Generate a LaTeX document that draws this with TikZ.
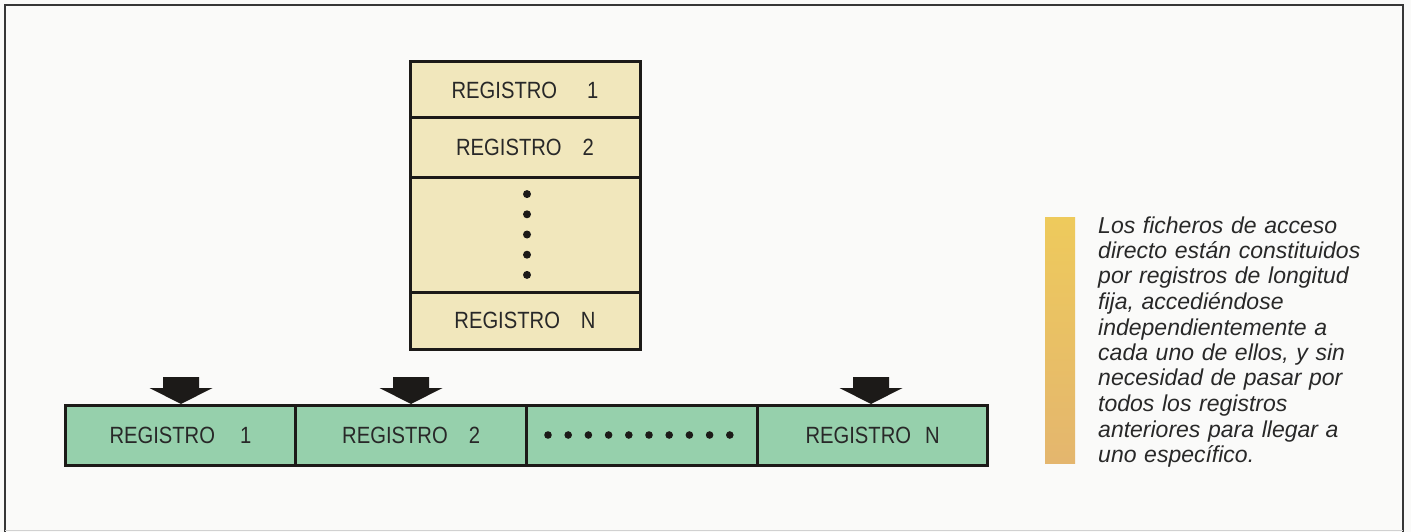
\documentclass[tikz,border=0pt]{standalone}
\usepackage{fontspec}
\usetikzlibrary{calc}
\newfontfamily\lab{Liberation Sans}
\newfontfamily\labn[FakeStretch=0.86]{Liberation Sans}
\definecolor{bgcol}{RGB}{250,250,249}
\definecolor{framecol}{RGB}{55,55,55}
\definecolor{beige}{RGB}{241,231,188}
\definecolor{mint}{RGB}{150,208,172}
\definecolor{inkcol}{RGB}{28,26,24}
\definecolor{txtcol}{RGB}{40,40,40}
\definecolor{bartop}{RGB}{238,202,92}
\definecolor{barbot}{RGB}{228,182,110}
\begin{document}
\begin{tikzpicture}[x=1pt,y=-1pt,
  cellbox/.style={draw=inkcol, line width=3pt, inner sep=0pt, outer sep=0pt,
    minimum width=230.75pt, minimum height=60pt, fill=mint,
    font=\labn\fontsize{23.5}{26}\selectfont, text=txtcol},
  stackbox/.style={draw=inkcol, line width=3pt, inner sep=0pt, outer sep=0pt,
    minimum width=230pt, fill=beige,
    font=\labn\fontsize{23.5}{26}\selectfont, text=txtcol},
  dotmark/.style={fill=inkcol},
  downarr/.pic={\fill[inkcol] (0,-1) -- (-31.5,-17) -- (-18,-17) -- (-18,-28)
     -- (18,-28) -- (18,-17) -- (31.5,-17) -- cycle;}
]
\useasboundingbox (0,0) rectangle (1411,532);
\fill[bgcol] (0,0) rectangle (1411,532);
% frame
\draw[framecol, line width=1.8pt] (5,532) -- (5,5) -- (1403,5) -- (1403,532);
\draw[black!18, line width=1pt] (5,530) -- (1403,530);

% vertical stack
\node[stackbox, minimum height=56pt] (s1) at (525,90) {REGISTRO\hspace{30pt}1};
\node[stackbox, minimum height=59pt] (s2) at (525,147.5) {REGISTRO\hspace{21pt}2};
\node[stackbox, minimum height=115pt] (s3) at (525,234.5) {};
\node[stackbox, minimum height=57pt] (s4) at (525,320.5) {REGISTRO\hspace{21pt}N};
\foreach \i in {-2,...,2}
  \fill[dotmark] ($(s3.center)+(2,\i*20.2)$) circle (4pt);

% horizontal row
\node[cellbox] (c1) at (180.4,435) {REGISTRO\hspace{25pt}1};
\node[cellbox] (c2) at (411.1,435) {REGISTRO\hspace{21pt}2};
\node[cellbox] (c3) at (641.9,435) {};
\node[cellbox] (c4) at (872.6,435) {REGISTRO\hspace{14pt}N};
\foreach \k in {0,...,9}
  \fill[dotmark] ($(c3.center)+(\k*20.2-93.9,0)$) circle (3.8pt);

% arrows
\pic at ($(c1.north)+(0.6,0)$) {downarr};
\pic at ($(c2.north)+(-0.1,0)$) {downarr};
\pic at ($(c4.north)+(-1.6,0)$) {downarr};

% side bar and text
\shade[top color=bartop, bottom color=barbot] (1045,217) rectangle (1075,463);
\node[anchor=base west, inner sep=0pt, text width=300pt, align=left, text=txtcol,
  font=\lab\itshape\fontsize{23}{25.5}\selectfont] (txt) at (1098,233)
  {Los ficheros de acceso\\
   directo están constituidos\\
   por registros de longitud\\
   fija, accediéndose\\
   independientemente a\\
   cada uno de ellos, y sin\\
   necesidad de pasar por\\
   todos los registros\\
   anteriores para llegar a\\
   uno específico.};
\end{tikzpicture}
\end{document}
